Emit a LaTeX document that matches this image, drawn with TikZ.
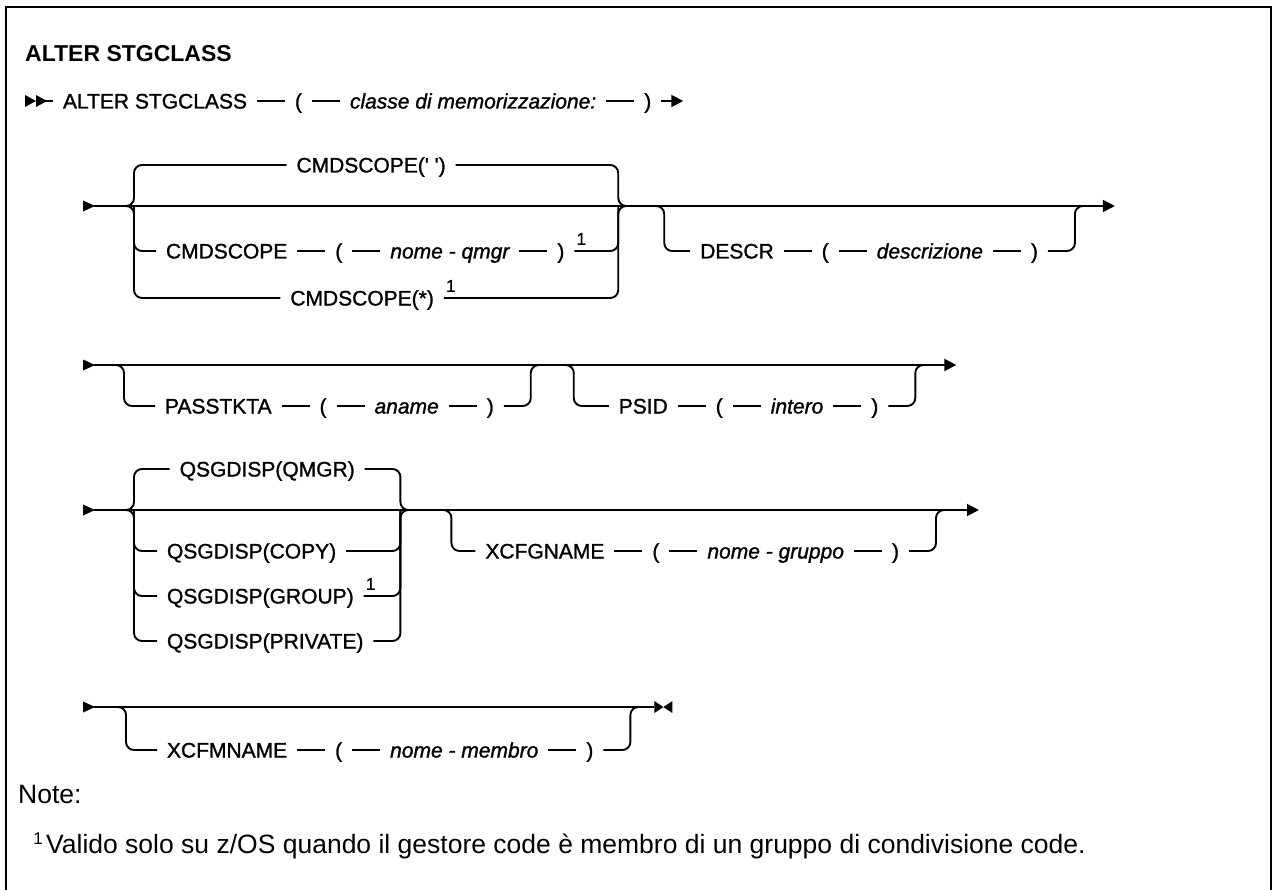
\documentclass[tikz,border=0pt]{standalone}
\usepackage{fontspec}
\setmainfont{Liberation Sans}
\newfontfamily\dfont[FakeBold=1.2, Ligatures=TeXOff]{Liberation Sans}
\usetikzlibrary{arrows.meta,positioning,calc}
\tikzset{
  tx/.style={inner xsep=10pt, inner ysep=0pt, outer sep=0pt, text height=15pt, text depth=0pt, font=\dfont\fontsize{21}{25}\selectfont},
  ti/.style={tx, font=\dfont\fontsize{21}{25}\selectfont\itshape},
  ln/.style={line width=1.9pt},
  br/.style={ln, rounded corners=8pt},
  sup/.style={inner sep=0pt, anchor=south west, font=\dfont\fontsize{17}{19}\selectfont},
  arr/.style={ln, -{Triangle[length=12pt,width=12pt]}},
  notefont/.style={inner sep=0pt, font=\fontsize{26.5}{31}\selectfont},
}
\begin{document}
\begin{tikzpicture}[x=1pt,y=-1pt]
\useasboundingbox (0,0) rectangle (1273,890);
% frame
\draw[line width=1.7pt] (6,900) -- (6,7) -- (1271,7) -- (1271,900);
% title
\node[anchor=west, inner sep=0pt, font=\bfseries\fontsize{23}{27}\selectfont] (title) at (25,53.5) {ALTER STGCLASS};

% ---------- row 1 ----------
\fill (25,95) -- (36,101) -- (25,107) -- cycle;
\fill (36,95) -- (47,101) -- (36,107) -- cycle;
\coordinate (r1s) at (42,101);
\node[tx, anchor=west] (r1a) at (53,101) {ALTER STGCLASS};
\node[tx, right=28pt of r1a] (r1b) {(};
\node[ti, right=28pt of r1b] (r1c) {classe di memorizzazione:};
\node[tx, right=28pt of r1c] (r1d) {)};
\coordinate[right=22pt of r1d] (r1e);
\draw[ln] (r1s) -- (r1a);
\draw[ln] (r1a) -- (r1b);
\draw[ln] (r1b) -- (r1c);
\draw[ln] (r1c) -- (r1d);
\draw[arr] (r1d) -- (r1e);

% ---------- row 2 ----------
\fill (83,200.5) -- (95,206) -- (83,211.5) -- cycle;
\coordinate (r2s) at (94,206);
\coordinate (g2L) at (127,206);
\coordinate (g2Lv) at (134,206);
\node[tx, anchor=west] (m1) at (156,251) {CMDSCOPE};
\node[tx, right=28pt of m1] (m2) {(};
\node[ti, right=28pt of m2] (m3) {nome - qmgr};
\node[tx, right=28pt of m3] (m4) {)};
\node[sup] (m5) at ([xshift=2pt,yshift=6pt]m4.east) {1};
\coordinate (g2Rt) at ([xshift=32pt]m5.east);
\coordinate (g2Rv) at (g2Rt |- r2s);
\coordinate (g2R) at ([xshift=7pt]g2Rv);
\node[tx] (t2) at ($(g2L)!0.5!(g2R) + (-5,-41)$) {CMDSCOPE(' ')};
\node[tx] (b2) at ($(g2L)!0.5!(g2R) + (-14,92)$) {CMDSCOPE(*)};
\node[sup] (b3) at ([xshift=2pt,yshift=6pt]b2.east) {1};
\draw[ln] (r2s) -- (g2L) -- (g2R);
\draw[br] (g2L) -- (g2Lv) |- (t2);
\draw[br] (g2L) -- (g2Lv) |- (b2);
\draw[br] (g2Lv) |- (m1);
\draw[ln] (m1) -- (m2);
\draw[ln] (m2) -- (m3);
\draw[ln] (m3) -- (m4);
\draw[br] (t2) -| (g2Rv) -- (g2R);
\draw[br] (b2) -| (g2Rv) -- (g2R);
\draw[br] (m4) -| (g2Rv);
% DESCR
\coordinate (dL) at ([xshift=32pt]g2R);
\coordinate (dLv) at ([xshift=7pt]dL);
\coordinate (dLb) at (dLv |- m1);
\node[tx, right=26pt of dLb] (d1) {DESCR};
\node[tx, right=28pt of d1] (d2) {(};
\node[ti, right=28pt of d2] (d3) {descrizione};
\node[tx, right=28pt of d3] (d4) {)};
\coordinate (dRb) at ([xshift=27pt]d4.east);
\coordinate (dRv) at (dRb |- r2s);
\coordinate (dR) at ([xshift=7pt]dRv);
\coordinate (r2e) at ([xshift=33pt]dR);
\draw[ln] (g2R) -- (dL) -- (dR);
\draw[br] (dL) -- (dLv) |- (d1);
\draw[ln] (d1) -- (d2);
\draw[ln] (d2) -- (d3);
\draw[ln] (d3) -- (d4);
\draw[br] (d4) -| (dRv) -- (dR);
\draw[arr] (dR) -- (r2e);

% ---------- row 3 ----------
\fill (83,359.5) -- (95,365) -- (83,370.5) -- cycle;
\coordinate (r3s) at (94,365);
\coordinate (pL) at (117,365);
\coordinate (pLv) at (124,365);
\node[tx, anchor=west] (p1) at (155,406) {PASSTKTA};
\node[tx, right=28pt of p1] (p2) {(};
\node[ti, right=28pt of p2] (p3) {aname};
\node[tx, right=28pt of p3] (p4) {)};
\coordinate (pRb) at ([xshift=27pt]p4.east);
\coordinate (pRv) at (pRb |- r3s);
\coordinate (pR) at ([xshift=7pt]pRv);
\coordinate (sL) at ([xshift=29pt]pR);
\coordinate (sLv) at ([xshift=7pt]sL);
\coordinate (sLb) at (sLv |- p1);
\node[tx, right=35pt of sLb] (s1) {PSID};
\node[tx, right=28pt of s1] (s2) {(};
\node[ti, right=28pt of s2] (s3) {intero};
\node[tx, right=28pt of s3] (s4) {)};
\coordinate (sRb) at ([xshift=27pt]s4.east);
\coordinate (sRv) at (sRb |- r3s);
\coordinate (sR) at ([xshift=7pt]sRv);
\coordinate (r3e) at ([xshift=34pt]sR);
\draw[ln] (r3s) -- (pL) -- (pR) -- (sL) -- (sR);
\draw[br] (pL) -- (pLv) |- (p1);
\draw[ln] (p1) -- (p2);
\draw[ln] (p2) -- (p3);
\draw[ln] (p3) -- (p4);
\draw[br] (p4) -| (pRv) -- (pR);
\draw[br] (sL) -- (sLv) |- (s1);
\draw[ln] (s1) -- (s2);
\draw[ln] (s2) -- (s3);
\draw[ln] (s3) -- (s4);
\draw[br] (s4) -| (sRv) -- (sR);
\draw[arr] (sR) -- (r3e);

% ---------- row 4 ----------
\fill (83,504.5) -- (95,510) -- (83,515.5) -- cycle;
\coordinate (r4s) at (94,510);
\coordinate (qL) at (127,510);
\coordinate (qLv) at (134,510);
\node[tx, anchor=west] (c1) at (157,551) {QSGDISP(COPY)};
\node[tx, anchor=west] (c2) at (157,596) {QSGDISP(GROUP)};
\node[sup] (c2n) at ([xshift=2pt,yshift=6pt]c2.east) {1};
\node[tx, anchor=west] (c3) at (157,641) {QSGDISP(PRIVATE)};
\coordinate (qRt) at ([xshift=27pt]c3.east);
\coordinate (qRv) at (qRt |- r4s);
\coordinate (qR) at ([xshift=7pt]qRv);
\node[tx] (q0) at ($(qL)!0.5!(qR) + (0,-41)$) {QSGDISP(QMGR)};
\draw[ln] (r4s) -- (qL) -- (qR);
\draw[br] (qL) -- (qLv) |- (q0);
\draw[br] (qL) -- (qLv) |- (c3);
\draw[br] (qLv) |- (c1);
\draw[br] (qLv) |- (c2);
\draw[br] (q0) -| (qRv) -- (qR);
\draw[br] (c3) -| (qRv) -- (qR);
\draw[br] (c1) -| (qRv);
\draw[br] (c2) -| (qRv);
% XCFGNAME
\coordinate (xL) at ([xshift=37pt]qR);
\coordinate (xLv) at ([xshift=7pt]xL);
\coordinate (xLb) at (xLv |- c1);
\node[tx, right=24pt of xLb] (x1) {XCFGNAME};
\node[tx, right=28pt of x1] (x2) {(};
\node[ti, right=28pt of x2] (x3) {nome - gruppo};
\node[tx, right=28pt of x3] (x4) {)};
\coordinate (xRb) at ([xshift=27pt]x4.east);
\coordinate (xRv) at (xRb |- r4s);
\coordinate (xR) at ([xshift=7pt]xRv);
\coordinate (r4e) at ([xshift=36pt]xR);
\draw[ln] (qR) -- (xL) -- (xR);
\draw[br] (xL) -- (xLv) |- (x1);
\draw[ln] (x1) -- (x2);
\draw[ln] (x2) -- (x3);
\draw[ln] (x3) -- (x4);
\draw[br] (x4) -| (xRv) -- (xR);
\draw[arr] (xR) -- (r4e);

% ---------- row 5 ----------
\fill (83,701.5) -- (95,707) -- (83,712.5) -- cycle;
\coordinate (r5s) at (94,707);
\coordinate (yL) at (119,707);
\coordinate (yLv) at (126,707);
\node[tx, anchor=west] (y1) at (157,750) {XCFMNAME};
\node[tx, right=28pt of y1] (y2) {(};
\node[ti, right=28pt of y2] (y3) {nome - membro};
\node[tx, right=28pt of y3] (y4) {)};
\coordinate (yRb) at ([xshift=27pt]y4.east);
\coordinate (yRv) at (yRb |- r5s);
\coordinate (yR) at ([xshift=7pt]yRv);
\coordinate (r5e) at ([xshift=17pt]yR);
\draw[ln] (r5s) -- (yL) -- (yR) -- (r5e);
\draw[br] (yL) -- (yLv) |- (y1);
\draw[ln] (y1) -- (y2);
\draw[ln] (y2) -- (y3);
\draw[ln] (y3) -- (y4);
\draw[br] (y4) -| (yRv) -- (yR);
\fill (r5e) ++(0,-6) -- ++(9,6) -- ++(-9,6) -- cycle;
\fill (r5e) ++(18,-6) -- ++(-9,6) -- ++(9,6) -- cycle;

% ---------- notes ----------
\node[notefont, anchor=base west] (note) at (18,803) {Note:};
\node[notefont, anchor=base west] (fnt) at (46,853) {Valido solo su z/OS quando il gestore code è membro di un gruppo di condivisione code.};
\node[inner sep=0pt, anchor=base east, font=\fontsize{17}{19}\selectfont] (fn1) at ([xshift=-3pt,yshift=9pt]fnt.base west) {1};
\end{tikzpicture}
\end{document}
